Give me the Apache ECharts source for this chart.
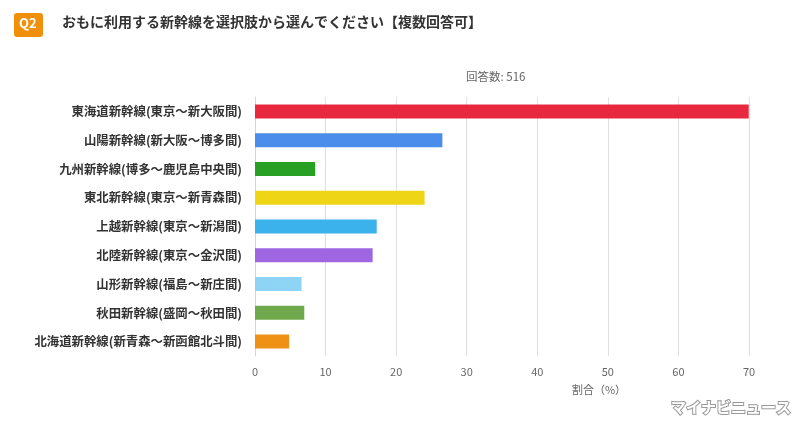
<!DOCTYPE html>
<html>
<head>
<meta charset="utf-8">
<script src="https://cdn.jsdelivr.net/npm/echarts@6/dist/echarts.min.js"></script>
<style>
    html, body { margin: 0; padding: 0; background: #fff; }
    #bar { width: 800px; height: 422px; }
</style>
</head>
<body>
<div id="bar"></div>
<script>
// 路線名（上から順）
var lines = [
    '東海道新幹線(東京～新大阪間)',
    '山陽新幹線(新大阪～博多間)',
    '九州新幹線(博多～鹿児島中央間)',
    '東北新幹線(東京～新青森間)',
    '上越新幹線(東京～新潟間)',
    '北陸新幹線(東京～金沢間)',
    '山形新幹線(福島～新庄間)',
    '秋田新幹線(盛岡～秋田間)',
    '北海道新幹線(新青森～新函館北斗間)'
];
// 割合（%）
var shares = [69.96, 26.55, 8.53, 24.03, 17.25, 16.67, 6.59, 6.98, 4.84];
var barColors = ['#E8283F', '#4A8DEA', '#27A023', '#EED515', '#3BB2EC', '#9E66E0', '#8ED4F5', '#70A84C', '#EE9115'];
var xTicks = [0, 10, 20, 30, 40, 50, 60, 70];
var answerCount = 516;

(function drawBar() {
    var chartDom = document.getElementById('bar');
    var myChart = echarts.init(chartDom);
    var option;

    option = {
        animation: false,
        textStyle: { fontFamily: '"Noto Sans CJK JP", sans-serif' },
        graphic: [
            {
                type: 'rect',
                left: 14, top: 13,
                shape: { width: 29, height: 24, r: 3 },
                style: { fill: '#F0900A' }
            },
            {
                type: 'text',
                left: 19, top: 17,
                style: { text: 'Q2', fill: '#fff', font: 'bold 13px "Noto Sans CJK JP", sans-serif' }
            },
            {
                type: 'text',
                left: 62, top: 15,
                style: {
                    text: 'おもに利用する新幹線を選択肢から選んでください【複数回答可】',
                    fill: '#333',
                    font: 'bold 14px "Noto Sans CJK JP", sans-serif'
                }
            },
            {
                type: 'text',
                left: 466, top: 71,
                style: { text: '回答数: ' + answerCount, fill: '#666', font: '11.5px "Noto Sans CJK JP", sans-serif' }
            },
            {
                type: 'text',
                right: 8, bottom: 6,
                style: {
                    text: 'マイナビニュース',
                    fill: '#fff',
                    stroke: '#999',
                    lineWidth: 2,
                    font: 'bold 15px "Noto Sans CJK JP", sans-serif'
                }
            }
        ],
        grid: {
            left: 255,
            right: 51,
            top: 97,
            bottom: 66
        },
        xAxis: {
            type: 'value',
            min: 0,
            max: 70,
            interval: 10,
            name: '割合（%）',
            nameLocation: 'middle',
            nameGap: 28,
            nameTextStyle: { color: '#666', fontSize: 11, padding: [0, 0, 0, 194] },
            axisLine: { show: false },
            axisTick: { show: false },
            axisLabel: {
                color: '#666',
                fontSize: 11,
                margin: 10,
                formatter: function (v) { return xTicks.indexOf(v) >= 0 ? String(v) : ''; }
            },
            splitLine: { lineStyle: { color: '#e0e0e0' } }
        },
        yAxis: {
            type: 'category',
            inverse: true,
            data: lines,
            axisLine: { lineStyle: { color: '#ccd6eb' } },
            axisTick: { length: 7, lineStyle: { color: '#ccd6eb' } },
            axisLabel: { color: '#333', fontSize: 12.4, fontWeight: 'bold', margin: 13 }
        },
        series: [
            {
                name: '割合',
                type: 'bar',
                barWidth: 14,
                data: shares.map(function (v, i) {
                    return { value: v, itemStyle: { color: barColors[i] } };
                })
            }
        ]
    };

    option && myChart.setOption(option);
})();
</script>
</body>
</html>
